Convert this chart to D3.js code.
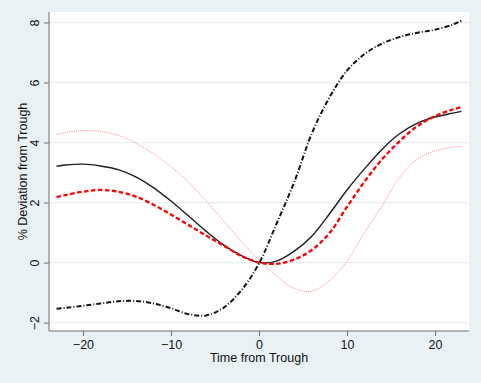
<!DOCTYPE html>
<html>
<head>
<meta charset="utf-8">
<script src="https://cdn.jsdelivr.net/npm/d3@7"></script>
<style>
  html, body { margin: 0; padding: 0; background: #eaf1f4; }
  svg { display: block; }
</style>
</head>
<body>
<script>
// Months relative to the business-cycle trough
const times = [-23,-22,-20,-18,-16,-14,-12,-10,-8,-6,-4,-2,0,2,4,6,8,10,12,14,16,18,20,22,23];

// % deviation from the trough value, one array per series
const solidBlack = [3.21,3.25,3.28,3.22,3.10,2.86,2.50,2.05,1.55,1.04,0.58,0.23,0.00,0.05,0.38,0.88,1.62,2.42,3.13,3.78,4.30,4.65,4.85,4.98,5.04];
const dashedRed  = [2.18,2.25,2.36,2.42,2.36,2.20,1.93,1.60,1.25,0.90,0.56,0.22,0.00,-0.04,0.10,0.42,0.98,1.86,2.70,3.45,4.05,4.55,4.88,5.10,5.18];
const dottedPink = [4.26,4.33,4.40,4.37,4.24,3.98,3.63,3.20,2.68,2.05,1.38,0.70,0.09,-0.45,-0.86,-0.95,-0.60,0.05,1.00,1.90,2.85,3.45,3.72,3.84,3.87];
const dashDot    = [-1.54,-1.51,-1.44,-1.36,-1.29,-1.28,-1.36,-1.52,-1.72,-1.76,-1.50,-0.92,-0.03,1.30,2.68,4.30,5.50,6.40,6.95,7.30,7.52,7.66,7.76,7.93,8.06];

const xTicks = [-20, -10, 0, 10, 20];
const yTicks = [-2, 0, 2, 4, 6, 8];

const W = 481, H = 383;
const plot = { left: 49, right: 469, top: 12, bottom: 331 };

const svg = d3.select("body").append("svg").attr("width", W).attr("height", H);

svg.append("rect").attr("width", W).attr("height", H).attr("fill", "#eaf1f4");
svg.append("rect")
  .attr("x", plot.left).attr("y", plot.top)
  .attr("width", plot.right - plot.left).attr("height", plot.bottom - plot.top)
  .attr("fill", "#ffffff");

const x = d3.scaleLinear().domain([-23.86, 23.86]).range([plot.left, plot.right]);
const y = d3.scaleLinear().domain([-2.28, 8.35]).range([plot.bottom, plot.top]);

// horizontal grid lines
svg.append("g").selectAll("line").data(yTicks).join("line")
  .attr("x1", plot.left).attr("x2", plot.right)
  .attr("y1", d => y(d)).attr("y2", d => y(d))
  .attr("stroke", "#e8eff1").attr("stroke-width", 1.3);

const font = "'Liberation Sans', Arial, sans-serif";
const fs = 12.5;

// y axis
const yAxis = svg.append("g")
  .attr("transform", `translate(${plot.left},0)`)
  .call(d3.axisLeft(y).tickValues(yTicks).tickSize(5).tickPadding(0).tickSizeOuter(0).tickFormat(d3.format("d")));
yAxis.select(".domain").attr("stroke", "#6e6e6e").attr("d", `M0,${plot.top}V${plot.bottom}`);
yAxis.selectAll(".tick line").attr("stroke", "#6e6e6e");
yAxis.selectAll(".tick text")
  .attr("font-family", font).attr("font-size", fs).attr("fill", "#111")
  .attr("text-anchor", "middle").attr("dy", null).attr("x", null)
  .attr("transform", "translate(-14.5,0) rotate(-90)")
  .attr("dominant-baseline", "central");

// x axis
const xAxis = svg.append("g")
  .attr("transform", `translate(0,${plot.bottom})`)
  .call(d3.axisBottom(x).tickValues(xTicks).tickSize(5).tickPadding(4).tickSizeOuter(0).tickFormat(d3.format("d")));
xAxis.select(".domain").attr("stroke", "#6e6e6e").attr("d", `M${plot.left},0H${plot.right}`);
xAxis.selectAll(".tick line").attr("stroke", "#6e6e6e");
xAxis.selectAll(".tick text")
  .attr("font-family", font).attr("font-size", fs).attr("fill", "#111");

// axis titles
svg.append("text")
  .attr("x", (plot.left + plot.right) / 2).attr("y", 362)
  .attr("text-anchor", "middle")
  .attr("font-family", font).attr("font-size", fs).attr("fill", "#111")
  .text("Time from Trough");

svg.append("text")
  .attr("transform", `translate(27,${(plot.top + plot.bottom) / 2}) rotate(-90)`)
  .attr("text-anchor", "middle")
  .attr("font-family", font).attr("font-size", fs).attr("fill", "#111")
  .text("% Deviation from Trough");

// series
const line = d3.line().x(d => x(d[0])).y(d => y(d[1])).curve(d3.curveCatmullRom.alpha(0.5));
const series = [
  { values: dottedPink, stroke: "#ff7f7f", width: 1.0, dash: "1,1.2" },
  { values: solidBlack, stroke: "#1e1e1e", width: 1.4, dash: null },
  { values: dashedRed,  stroke: "#ff0000", width: 2.3, dash: "4.5,2.5" },
  { values: dashDot,    stroke: "#141414", width: 2.0, dash: "5,2,1,2" }
];

svg.append("g").selectAll("path").data(series).join("path")
  .attr("d", s => line(times.map((t, i) => [t, s.values[i]])))
  .attr("fill", "none")
  .attr("stroke", s => s.stroke)
  .attr("stroke-width", s => s.width)
  .attr("stroke-dasharray", s => s.dash);
</script>
</body>
</html>
